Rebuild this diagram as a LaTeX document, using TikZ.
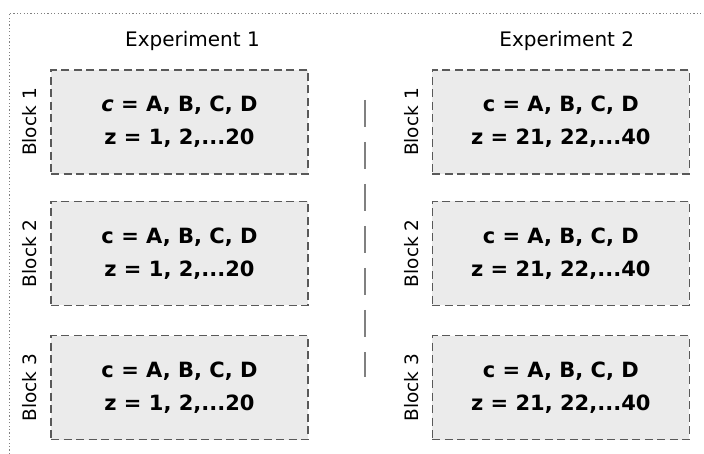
\documentclass[tikz,border=0pt]{standalone}
\usepackage{fontspec}
\setmainfont{DejaVu Sans}
\usetikzlibrary{positioning}

\begin{document}
\begin{tikzpicture}[
    x=1pt, y=-1pt,
    cell/.style={draw=black!65, dash pattern=on 8pt off 4.5pt, line width=1.3pt, fill=black!8,
        minimum width=257pt, minimum height=104pt, align=center,
        font=\fontsize{21}{33}\selectfont\bfseries},
    blocklab/.style={rotate=90, inner sep=0pt, font=\fontsize{18.5}{20}\selectfont},
    title/.style={inner sep=0pt, font=\fontsize{20}{24}\selectfont},
    divider/.style={draw=black!50, line width=1.8pt, dash pattern=on 27pt off 15pt},
    frame/.style={draw=black!50, line width=0.6pt, dash pattern=on 1.2pt off 2.2pt}
]
    \fill[white] (0,0) rectangle (704,454);
    \useasboundingbox (0,0) rectangle (704,454);

    % outer frame, only top and left show
    \coordinate (fr) at (9,13);
    \coordinate (frtr) at (704,13);
    \coordinate (frbl) at (9,454);
    \draw[frame] (frbl) -- (fr) -- (frtr);

    % experiment 1
    \node[cell] (a1) at (179.5,122) {\textit{c} = A, B, C, D\\z = 1, 2,...20};
    \node[cell, below=26pt of a1] (a2) {c = A, B, C, D\\z = 1, 2,...20};
    \node[cell, below=29pt of a2] (a3) {c = A, B, C, D\\z = 1, 2,...20};

    % experiment 2
    \node[cell, right=123pt of a1] (b1) {c = A, B, C, D\\z = 21, 22,...40};
    \node[cell, right=123pt of a2] (b2) {c = A, B, C, D\\z = 21, 22,...40};
    \node[cell, right=123pt of a3] (b3) {c = A, B, C, D\\z = 21, 22,...40};

    \node[title, above=18pt of a1, xshift=13pt] (t1) {Experiment 1};
    \node[title, above=18pt of b1, xshift=6pt] (t2) {Experiment 2};

    \node[blocklab, left=13pt of a1, anchor=south] (la1) {Block 1};
    \node[blocklab, left=13pt of a2, anchor=south] (la2) {Block 2};
    \node[blocklab, left=13pt of a3, anchor=south] (la3) {Block 3};
    \node[blocklab, left=13pt of b1, anchor=south] (lb1) {Block 1};
    \node[blocklab, left=13pt of b2, anchor=south] (lb2) {Block 2};
    \node[blocklab, left=13pt of b3, anchor=south] (lb3) {Block 3};

    % divider between the two experiments
    \coordinate (dtop) at (365,100);
    \coordinate (dbot) at (365,377);
    \draw[divider] (dtop) -- (dbot);
\end{tikzpicture}
\end{document}
